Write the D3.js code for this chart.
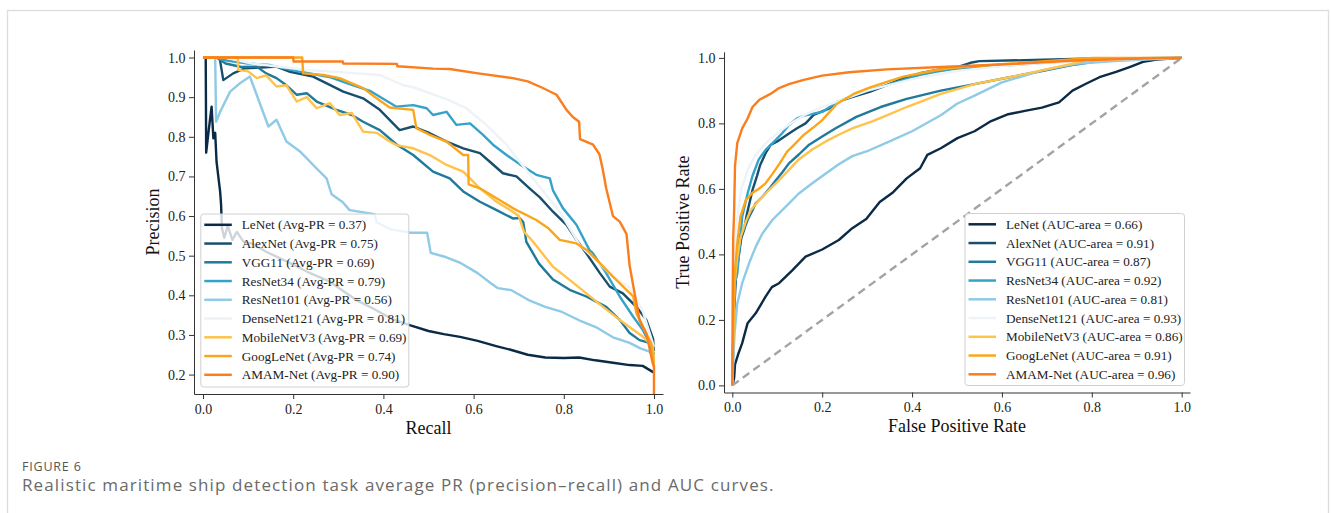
<!DOCTYPE html>
<html>
<head>
<meta charset="utf-8">
<script src="https://cdn.jsdelivr.net/npm/d3@7"></script>
<style>
  html, body { margin: 0; padding: 0; background: #fff; }
  svg { display: block; }
  .tick text { font-family: "Liberation Serif", "Times New Roman", serif; font-size: 14px; fill: #222; }
  .tick line, .domain { stroke: #333; stroke-width: 1; }
  .axis-label { font-family: "Liberation Serif", "Times New Roman", serif; font-size: 18px; fill: #111; }
  .legend-text { font-family: "Liberation Serif", "Times New Roman", serif; font-size: 13.2px; fill: #222; }
</style>
</head>
<body>
<script>
// Series names and colours (same order for both panels)
const models = ["LeNet", "AlexNet", "VGG11", "ResNet34", "ResNet101", "DenseNet121", "MobileNetV3", "GoogLeNet", "AMAM-Net"];
const colors = ["#0b2a45", "#184f6e", "#1f7a9b", "#35a3c9", "#8fcae6", "#edf3f7", "#ffc24a", "#fba61a", "#fa7d1e"];
const avgPR = ["0.37", "0.75", "0.69", "0.79", "0.56", "0.81", "0.69", "0.74", "0.90"];
const aucArea = ["0.66", "0.91", "0.87", "0.92", "0.81", "0.93", "0.86", "0.91", "0.96"];

const prTicks = [0.2, 0.3, 0.4, 0.5, 0.6, 0.7, 0.8, 0.9, 1.0];
const unitTicks = [0, 0.2, 0.4, 0.6, 0.8, 1.0];

// PR curves: [recall, precision]
const prLeNet = [[0,1],[0.006,1],[0.007,0.76],[0.013,0.82],[0.019,0.876],[0.023,0.796],[0.027,0.81],[0.030,0.737],[0.036,0.68],[0.038,0.661],[0.040,0.63],[0.042,0.57],[0.047,0.545],[0.055,0.575],[0.065,0.54],[0.075,0.56],[0.09,0.535],[0.11,0.53],[0.14,0.51],[0.19,0.483],[0.23,0.46],[0.28,0.435],[0.34,0.388],[0.38,0.365],[0.42,0.34],[0.46,0.324],[0.50,0.31],[0.534,0.302],[0.57,0.295],[0.609,0.285],[0.65,0.272],[0.684,0.262],[0.72,0.25],[0.759,0.243],[0.80,0.242],[0.834,0.243],[0.87,0.236],[0.909,0.23],[0.946,0.224],[0.975,0.222],[1.0,0.205]];
const prAlexNet = [[0,1],[0.035,1],[0.037,0.998],[0.045,0.943],[0.067,0.96],[0.093,0.973],[0.13,0.975],[0.163,0.977],[0.193,0.964],[0.244,0.952],[0.281,0.931],[0.311,0.914],[0.355,0.897],[0.392,0.868],[0.436,0.817],[0.466,0.826],[0.503,0.809],[0.54,0.788],[0.577,0.771],[0.614,0.759],[0.636,0.737],[0.665,0.708],[0.695,0.70],[0.724,0.67],[0.747,0.647],[0.776,0.611],[0.806,0.578],[0.828,0.54],[0.85,0.506],[0.88,0.456],[0.902,0.422],[0.931,0.405],[0.961,0.371],[0.983,0.338],[0.998,0.29],[1.0,0.26]];
const prVGG11 = [[0,1],[0.03,1],[0.05,0.985],[0.085,0.976],[0.119,0.977],[0.14,0.96],[0.163,0.948],[0.185,0.93],[0.208,0.906],[0.23,0.91],[0.252,0.889],[0.296,0.868],[0.33,0.855],[0.355,0.838],[0.392,0.817],[0.43,0.78],[0.466,0.754],[0.51,0.712],[0.547,0.695],[0.577,0.662],[0.614,0.636],[0.651,0.615],[0.687,0.594],[0.702,0.595],[0.71,0.585],[0.717,0.535],[0.745,0.48],[0.776,0.44],[0.813,0.414],[0.85,0.397],[0.894,0.371],[0.924,0.338],[0.946,0.305],[0.968,0.287],[0.99,0.28],[1.0,0.25]];
const prResNet34 = [[0,1],[0.03,1],[0.048,0.993],[0.1,0.985],[0.148,0.981],[0.215,0.964],[0.28,0.951],[0.325,0.933],[0.37,0.916],[0.392,0.901],[0.429,0.876],[0.466,0.88],[0.496,0.872],[0.51,0.855],[0.54,0.863],[0.562,0.83],[0.592,0.834],[0.621,0.805],[0.643,0.78],[0.673,0.754],[0.702,0.731],[0.739,0.704],[0.769,0.695],[0.776,0.665],[0.798,0.62],[0.828,0.578],[0.857,0.514],[0.864,0.507],[0.894,0.456],[0.924,0.397],[0.954,0.346],[0.975,0.313],[0.994,0.27],[1.0,0.25]];
const prResNet101 = [[0,1],[0.027,1],[0.029,0.838],[0.038,0.863],[0.06,0.914],[0.082,0.935],[0.104,0.952],[0.119,0.906],[0.13,0.872],[0.145,0.826],[0.163,0.843],[0.185,0.788],[0.215,0.763],[0.252,0.72],[0.274,0.695],[0.285,0.655],[0.31,0.635],[0.325,0.615],[0.38,0.605],[0.385,0.584],[0.415,0.567],[0.46,0.558],[0.497,0.558],[0.505,0.507],[0.534,0.498],[0.572,0.481],[0.609,0.456],[0.639,0.43],[0.654,0.418],[0.684,0.413],[0.722,0.388],[0.759,0.371],[0.796,0.358],[0.834,0.337],[0.871,0.32],[0.909,0.294],[0.946,0.28],[0.97,0.266],[0.99,0.258],[1.0,0.24]];
const prDenseNet121 = [[0,1],[0.05,1],[0.108,0.985],[0.235,0.968],[0.32,0.962],[0.392,0.956],[0.444,0.93],[0.466,0.925],[0.54,0.895],[0.584,0.872],[0.628,0.83],[0.673,0.78],[0.702,0.737],[0.732,0.695],[0.761,0.653],[0.791,0.611],[0.813,0.569],[0.835,0.527],[0.86,0.50],[0.909,0.447],[0.946,0.42],[0.975,0.36],[1.0,0.27]];
const prMobileNetV3 = [[0,1],[0.077,1],[0.078,0.969],[0.1,0.965],[0.119,0.948],[0.14,0.955],[0.163,0.927],[0.185,0.93],[0.208,0.889],[0.23,0.9],[0.252,0.872],[0.281,0.885],[0.303,0.855],[0.33,0.86],[0.355,0.813],[0.385,0.81],[0.414,0.788],[0.429,0.779],[0.466,0.771],[0.503,0.754],[0.54,0.729],[0.577,0.712],[0.614,0.67],[0.651,0.636],[0.687,0.611],[0.70,0.6],[0.712,0.56],[0.732,0.535],[0.776,0.472],[0.813,0.439],[0.85,0.405],[0.887,0.371],[0.924,0.338],[0.954,0.313],[0.975,0.296],[0.998,0.27],[1.0,0.23]];
const prGoogLeNet = [[0,1],[0.22,1],[0.222,0.96],[0.267,0.956],[0.303,0.948],[0.355,0.923],[0.385,0.897],[0.414,0.874],[0.466,0.868],[0.473,0.822],[0.503,0.805],[0.54,0.788],[0.577,0.754],[0.588,0.754],[0.589,0.68],[0.614,0.67],[0.651,0.645],[0.687,0.62],[0.702,0.611],[0.739,0.59],[0.765,0.57],[0.791,0.54],[0.828,0.531],[0.85,0.515],[0.88,0.481],[0.909,0.447],[0.939,0.414],[0.954,0.397],[0.961,0.355],[0.975,0.321],[0.994,0.279],[1.0,0.22]];
const prAMAM = [[0,1],[0.20,1],[0.201,0.99],[0.31,0.99],[0.311,0.985],[0.43,0.984],[0.431,0.978],[0.51,0.972],[0.547,0.971],[0.61,0.96],[0.687,0.948],[0.72,0.94],[0.75,0.925],[0.784,0.906],[0.806,0.868],[0.82,0.85],[0.834,0.838],[0.836,0.794],[0.865,0.78],[0.879,0.756],[0.886,0.72],[0.894,0.67],[0.909,0.6],[0.924,0.586],[0.939,0.555],[0.946,0.475],[0.957,0.405],[0.968,0.338],[0.983,0.304],[0.997,0.23],[1.0,0.22],[1.0,0.15]];

// ROC curves: [false positive rate, true positive rate]
const rocLeNet = [[0,0],[0.004,0.022],[0.006,0.064],[0.013,0.095],[0.022,0.129],[0.034,0.19],[0.052,0.22],[0.074,0.271],[0.088,0.3],[0.104,0.312],[0.134,0.352],[0.163,0.393],[0.2,0.415],[0.237,0.444],[0.267,0.48],[0.298,0.508],[0.328,0.56],[0.358,0.59],[0.388,0.632],[0.418,0.663],[0.434,0.704],[0.464,0.724],[0.501,0.755],[0.539,0.776],[0.576,0.807],[0.614,0.828],[0.651,0.838],[0.689,0.848],[0.727,0.864],[0.757,0.9],[0.787,0.921],[0.817,0.941],[0.854,0.957],[0.884,0.972],[0.914,0.988],[0.944,0.995],[1,1]];
const rocAlexNet = [[0,0],[0.003,0.2],[0.008,0.33],[0.011,0.363],[0.02,0.45],[0.026,0.474],[0.032,0.52],[0.045,0.597],[0.055,0.64],[0.062,0.673],[0.074,0.709],[0.085,0.734],[0.1,0.745],[0.122,0.765],[0.144,0.785],[0.163,0.8],[0.181,0.826],[0.215,0.845],[0.233,0.866],[0.27,0.882],[0.307,0.897],[0.344,0.917],[0.381,0.938],[0.418,0.953],[0.455,0.963],[0.492,0.968],[0.53,0.985],[0.55,0.99],[0.65,0.993],[0.8,0.998],[1,1]];
const rocVGG11 = [[0,0],[0.003,0.2],[0.005,0.33],[0.011,0.42],[0.018,0.46],[0.026,0.475],[0.034,0.505],[0.045,0.535],[0.052,0.556],[0.067,0.576],[0.082,0.6],[0.096,0.625],[0.111,0.65],[0.126,0.678],[0.148,0.705],[0.171,0.735],[0.2,0.76],[0.23,0.785],[0.276,0.82],[0.33,0.85],[0.388,0.875],[0.464,0.9],[0.539,0.92],[0.614,0.94],[0.689,0.96],[0.764,0.98],[0.839,0.995],[1,1]];
const rocResNet34 = [[0,0],[0.003,0.2],[0.005,0.31],[0.011,0.34],[0.022,0.515],[0.034,0.586],[0.045,0.64],[0.059,0.69],[0.074,0.719],[0.089,0.739],[0.111,0.77],[0.126,0.795],[0.144,0.815],[0.163,0.825],[0.2,0.835],[0.233,0.865],[0.27,0.885],[0.307,0.902],[0.344,0.917],[0.381,0.933],[0.418,0.948],[0.455,0.958],[0.492,0.966],[0.614,0.977],[0.764,0.992],[0.85,0.998],[1,1]];
const rocResNet101 = [[0,0],[0.003,0.1],[0.005,0.159],[0.011,0.25],[0.022,0.312],[0.037,0.372],[0.052,0.423],[0.067,0.464],[0.089,0.505],[0.119,0.546],[0.148,0.586],[0.178,0.617],[0.208,0.647],[0.237,0.675],[0.267,0.7],[0.3,0.715],[0.35,0.745],[0.4,0.776],[0.464,0.825],[0.5,0.86],[0.539,0.885],[0.6,0.925],[0.689,0.962],[0.764,0.982],[0.85,0.99],[1,1]];
const rocDenseNet121 = [[0,0],[0.003,0.35],[0.01,0.5],[0.02,0.6],[0.035,0.66],[0.05,0.7],[0.075,0.74],[0.1,0.77],[0.13,0.8],[0.16,0.825],[0.2,0.85],[0.25,0.875],[0.3,0.9],[0.4,0.935],[0.5,0.96],[0.6,0.975],[0.7,0.985],[0.8,0.993],[1,1]];
const rocMobileNetV3 = [[0,0],[0.003,0.2],[0.005,0.31],[0.011,0.39],[0.018,0.45],[0.03,0.5],[0.041,0.535],[0.059,0.565],[0.082,0.597],[0.104,0.627],[0.126,0.658],[0.148,0.69],[0.178,0.72],[0.208,0.745],[0.238,0.766],[0.267,0.785],[0.313,0.807],[0.388,0.85],[0.464,0.89],[0.539,0.92],[0.614,0.94],[0.689,0.962],[0.75,0.98],[0.802,0.998],[1,1]];
const rocGoogLeNet = [[0,0],[0.003,0.25],[0.006,0.35],[0.011,0.433],[0.018,0.515],[0.03,0.566],[0.045,0.588],[0.059,0.6],[0.074,0.617],[0.089,0.645],[0.104,0.675],[0.122,0.714],[0.134,0.73],[0.159,0.765],[0.178,0.785],[0.2,0.81],[0.233,0.86],[0.27,0.89],[0.307,0.91],[0.344,0.927],[0.381,0.943],[0.418,0.953],[0.455,0.963],[0.492,0.97],[0.614,0.982],[0.802,1.0],[1,1]];
const rocAMAM = [[0,0],[0.001,0.3],[0.002,0.45],[0.004,0.53],[0.006,0.67],[0.011,0.74],[0.022,0.785],[0.034,0.815],[0.045,0.85],[0.06,0.872],[0.085,0.89],[0.104,0.908],[0.126,0.92],[0.159,0.933],[0.2,0.946],[0.26,0.956],[0.344,0.965],[0.464,0.972],[0.614,0.981],[0.764,0.992],[0.914,0.998],[1,1]];

const prCurves = [prLeNet, prAlexNet, prVGG11, prResNet34, prResNet101, prDenseNet121, prMobileNetV3, prGoogLeNet, prAMAM];
const rocCurves = [rocLeNet, rocAlexNet, rocVGG11, rocResNet34, rocResNet101, rocDenseNet121, rocMobileNetV3, rocGoogLeNet, rocAMAM];

const W = 1331, H = 513;
const svg = d3.select("body").append("svg").attr("width", W).attr("height", H);

// figure frame
svg.append("rect")
    .attr("x", 7.5).attr("y", 10.5)
    .attr("width", 1321).attr("height", 600)
    .attr("fill", "none").attr("stroke", "#dcdcdc").attr("stroke-width", 1.3);

function drawPanel(opts) {
    const g = svg.append("g");
    const x = d3.scaleLinear().domain(opts.xDomain).range([opts.left, opts.right]);
    const y = d3.scaleLinear().domain(opts.yDomain).range([opts.bottom, opts.top]);

    g.append("g")
        .attr("transform", `translate(0,${opts.bottom})`)
        .call(d3.axisBottom(x).tickValues(opts.xTicks).tickFormat(d3.format(".1f"))
            .tickSize(5).tickSizeOuter(0).tickPadding(3))
        .call(a => a.selectAll(".tick text").attr("dy", "0.85em"));

    g.append("g")
        .attr("transform", `translate(${opts.left},0)`)
        .call(d3.axisLeft(y).tickValues(opts.yTicks).tickFormat(d3.format(".1f"))
            .tickSize(5).tickSizeOuter(0).tickPadding(3.5));

    const clip = "clip-" + opts.id;
    g.append("clipPath").attr("id", clip)
        .append("rect")
        .attr("x", opts.left).attr("y", opts.top - 2)
        .attr("width", opts.right - opts.left + 2).attr("height", opts.bottom - opts.top + 2);

    const plot = g.append("g").attr("clip-path", `url(#${clip})`);

    if (opts.diagonal) {
        plot.append("line")
            .attr("x1", x(0)).attr("y1", y(0))
            .attr("x2", x(1)).attr("y2", y(1))
            .attr("stroke", "#a3a3a3").attr("stroke-width", 2.4)
            .attr("stroke-dasharray", "8,5");
    }

    const line = d3.line().x(d => x(d[0])).y(d => y(d[1]));
    opts.curves.forEach((c, i) => {
        plot.append("path")
            .datum(c)
            .attr("d", line)
            .attr("fill", "none")
            .attr("stroke", colors[i])
            .attr("stroke-width", 2.4)
            .attr("stroke-linejoin", "round");
    });

    // axis labels
    g.append("text").attr("class", "axis-label")
        .attr("x", (opts.left + opts.right) / 2).attr("y", opts.xLabelY)
        .attr("text-anchor", "middle").text(opts.xLabel);
    g.append("text").attr("class", "axis-label")
        .attr("transform", `translate(${opts.yLabelX},${(opts.top + opts.bottom) / 2}) rotate(-90)`)
        .attr("text-anchor", "middle").text(opts.yLabel);

    // legend
    const lg = g.append("g");
    lg.append("rect")
        .attr("x", opts.legend.x).attr("y", opts.legend.y)
        .attr("width", opts.legend.w).attr("height", opts.legend.h)
        .attr("rx", 3)
        .attr("fill", "#fff").attr("fill-opacity", 0.8)
        .attr("stroke", "#d0d0d0").attr("stroke-width", 1);

    models.forEach((m, i) => {
        const cy = opts.legend.y + 10.8 + i * 18.75;
        lg.append("line")
            .attr("x1", opts.legend.x + 3.5).attr("x2", opts.legend.x + 31)
            .attr("y1", cy).attr("y2", cy)
            .attr("stroke", colors[i]).attr("stroke-width", 2.5);
        lg.append("text").attr("class", "legend-text")
            .attr("x", opts.legend.x + 41).attr("y", cy)
            .attr("dy", "0.35em")
            .text(`${m} (${opts.scoreName} = ${opts.scores[i]})`);
    });
}

drawPanel({
    id: "pr", left: 194, right: 663, top: 50, bottom: 394,
    xDomain: [-0.02, 1.02], yDomain: [0.151, 1.019],
    xTicks: unitTicks, yTicks: prTicks,
    curves: prCurves, diagonal: false,
    xLabel: "Recall", yLabel: "Precision", xLabelY: 434, yLabelX: 159,
    legend: { x: 200.8, y: 214, w: 208, h: 173 },
    scoreName: "Avg-PR", scores: avgPR
});

drawPanel({
    id: "roc", left: 724, right: 1190, top: 51.8, bottom: 392.5,
    xDomain: [-0.0185, 1.0185], yDomain: [-0.0217, 1.0186],
    xTicks: unitTicks, yTicks: unitTicks,
    curves: rocCurves, diagonal: true,
    xLabel: "False Positive Rate", yLabel: "True Positive Rate", xLabelY: 432, yLabelX: 689,
    legend: { x: 965, y: 213.5, w: 219.5, h: 172 },
    scoreName: "AUC-area", scores: aucArea
});

// caption
svg.append("text")
    .attr("x", 22).attr("y", 471)
    .attr("font-family", "'Open Sans', sans-serif")
    .attr("font-size", 12.5).attr("letter-spacing", 0.8)
    .attr("fill", "#555")
    .text("FIGURE 6");
svg.append("text")
    .attr("x", 22).attr("y", 491)
    .attr("font-family", "'Open Sans', sans-serif")
    .attr("font-size", 17).attr("letter-spacing", 1.12)
    .attr("fill", "#6a6a6a")
    .text("Realistic maritime ship detection task average PR (precision\u2013recall) and AUC curves.");
</script>
</body>
</html>
